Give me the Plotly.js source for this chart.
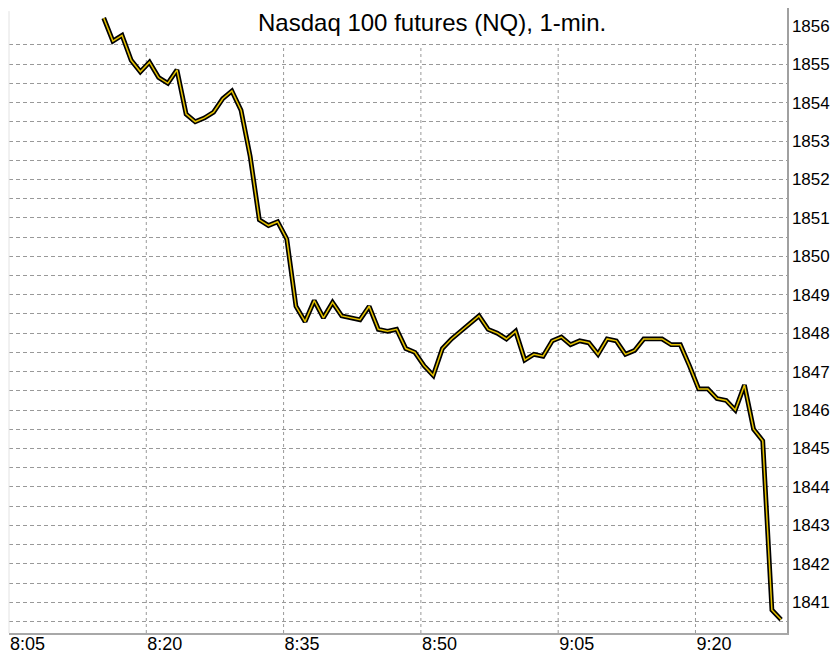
<!DOCTYPE html>
<html>
<head>
<meta charset="utf-8">
<script src="https://cdn.plot.ly/plotly-3.0.1.min.js"></script>
<style>
  html, body { margin: 0; padding: 0; background: #ffffff; }
  #chart { width: 835px; height: 655px; }
</style>
</head>
<body>
<div id="chart"></div>
<script>
// ---- data ----
const times = [
  "8:15","8:16","8:17","8:18","8:19","8:20","8:21","8:22","8:23","8:24",
  "8:25","8:26","8:27","8:28","8:29","8:30","8:31","8:32","8:33","8:34",
  "8:35","8:36","8:37","8:38","8:39","8:40","8:41","8:42","8:43","8:44",
  "8:45","8:46","8:47","8:48","8:49","8:50","8:51","8:52","8:53","8:54",
  "8:55","8:56","8:57","8:58","8:59","9:00","9:01","9:02","9:03","9:04",
  "9:05","9:06","9:07","9:08","9:09","9:10","9:11","9:12","9:13","9:14",
  "9:15","9:16","9:17","9:18","9:19","9:20","9:21","9:22","9:23","9:24",
  "9:25","9:26","9:27","9:28","9:29"
];
const prices = [
  1856.2, 1855.6, 1855.75, 1855.1, 1854.8, 1855.05, 1854.65, 1854.5, 1854.85, 1853.7,
  1853.5, 1853.6, 1853.75, 1854.1, 1854.3, 1853.8, 1852.6, 1850.95, 1850.8, 1850.9,
  1850.45, 1848.7, 1848.3, 1848.85, 1848.4, 1848.8, 1848.45, 1848.4, 1848.35, 1848.7,
  1848.1, 1848.05, 1848.1, 1847.6, 1847.5, 1847.15, 1846.9, 1847.6, 1847.85, 1848.05,
  1848.25, 1848.45, 1848.1, 1848.0, 1847.85, 1848.05, 1847.3, 1847.45, 1847.4, 1847.8,
  1847.9, 1847.7, 1847.8, 1847.75, 1847.45, 1847.85, 1847.8, 1847.45, 1847.55, 1847.85,
  1847.85, 1847.85, 1847.7, 1847.7, 1847.15, 1846.55, 1846.55, 1846.3, 1846.25, 1846.0,
  1846.65, 1845.5, 1845.2, 1840.8, 1840.55
];
const xTickLabels = ["8:05", "8:20", "8:35", "8:50", "9:05", "9:20"];
const yTickLabels = [1841, 1842, 1843, 1844, 1845, 1846, 1847, 1848,
                     1849, 1850, 1851, 1852, 1853, 1854, 1855, 1856];
const yGridVals = [1840.5, 1841, 1841.5, 1842, 1842.5, 1843, 1843.5, 1844, 1844.5,
                   1845, 1845.5, 1846, 1846.5, 1847, 1847.5, 1848, 1848.5, 1849,
                   1849.5, 1850, 1850.5, 1851, 1851.5, 1852, 1852.5, 1853, 1853.5,
                   1854, 1854.5, 1855, 1855.5];
const xStart = "8:05", xEnd = "9:30";
const yRange = [1840.2, 1856.46];

// ---- helpers ----
function toMin(t) { const p = t.split(":"); return (+p[0]) * 60 + (+p[1]); }
const barCenter = 0.35; // each 1-min bar is drawn slightly after its minute mark
const xs = times.map(t => toMin(t) + barCenter);
const xTickVals = xTickLabels.map(toMin);
const gridTop = yGridVals[yGridVals.length - 1];
const GRID = "#999999";

const FONT = "Liberation Sans, Arial, Helvetica, sans-serif";

const traces = [
  { x: xs, y: prices, type: "scatter", mode: "lines", yaxis: "y",
    line: { color: "#000000", width: 4.8, shape: "linear" }, hoverinfo: "skip" },
  { x: xs, y: prices, type: "scatter", mode: "lines", yaxis: "y2",
    line: { color: "#e6c300", width: 1.5, shape: "linear" }, hoverinfo: "skip" }
];

// vertical dashed grid (stops at the top horizontal grid line, as in the reference)
const vGrid = xTickVals.slice(1).map(v => ({
  type: "line", xref: "x", yref: "y", layer: "below",
  x0: v, x1: v, y0: yRange[0], y1: gridTop,
  line: { color: GRID, width: 1, dash: "3px,3px" }
}));

const layout = {
  width: 835, height: 655,
  margin: { l: 9, r: 48, t: 8, b: 22, pad: 0 },
  paper_bgcolor: "#ffffff", plot_bgcolor: "#ffffff",
  showlegend: false,
  font: { family: FONT, size: 17, color: "#000000" },
  title: {
    text: "Nasdaq 100 futures (NQ), 1-min.",
    font: { family: FONT, size: 24, color: "#000000" },
    xref: "container", yref: "container",
    x: 0.5175, xanchor: "center", y: 0.966, yanchor: "middle"
  },
  xaxis: {
    range: [toMin(xStart), toMin(xEnd)],
    tickmode: "array", tickvals: xTickVals, ticktext: xTickLabels,
    ticklabelposition: "outside right", ticklabelstandoff: -7,
    ticks: "", showgrid: false,
    zeroline: false, showline: true, linecolor: "#a8a8a8", linewidth: 2,
    tickfont: { family: FONT, size: 18, color: "#000000" }, fixedrange: true
  },
  yaxis: {
    range: yRange, side: "right",
    tickmode: "array", tickvals: yTickLabels, ticktext: yTickLabels.map(String),
    ticks: "", showgrid: false, zeroline: false,
    showline: true, linecolor: "#a0a0a0", linewidth: 1.5,
    tickfont: { family: FONT, size: 17, color: "#000000" }, fixedrange: true
  },
  yaxis2: {
    range: yRange, overlaying: "y", side: "left",
    tickmode: "array", tickvals: yGridVals, showticklabels: false,
    ticks: "", showgrid: true, gridcolor: GRID, gridwidth: 1, griddash: "4px,3px",
    zeroline: false, showline: false, fixedrange: true
  },
  shapes: [
    { type: "line", xref: "paper", yref: "paper", x0: 0, x1: 0, y0: 0, y1: 0.995,
      line: { color: "#e2e2e2", width: 1 } }
  ].concat(vGrid)
};

Plotly.newPlot("chart", traces, layout, { displayModeBar: false, staticPlot: true });
</script>
</body>
</html>
